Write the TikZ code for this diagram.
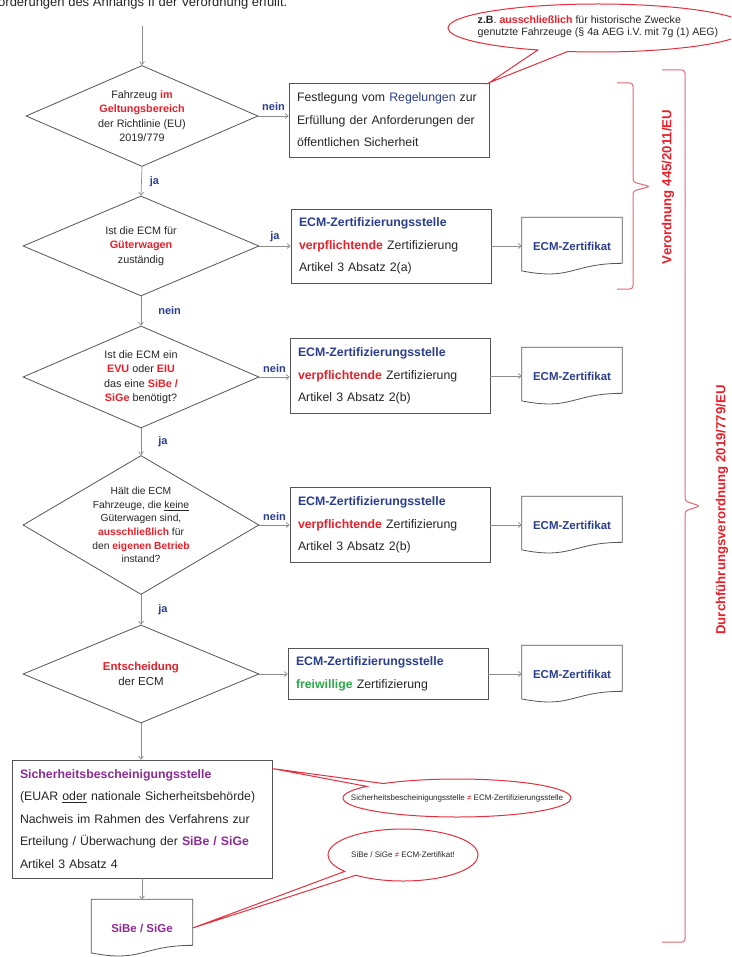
\documentclass[tikz,border=0pt]{standalone}
\usepackage{fontspec}
\setmainfont{Liberation Sans}
\usetikzlibrary{shapes.geometric,shapes.callouts,arrows.meta,calc}

\definecolor{ecmblue}{HTML}{2B3E8E}
\definecolor{alertred}{HTML}{E8202A}
\definecolor{okgreen}{HTML}{2EA84A}
\definecolor{sibepurple}{HTML}{8B2C93}
\definecolor{bracered}{HTML}{E06A76}
\definecolor{calloutred}{HTML}{E2303F}
\definecolor{framegray}{HTML}{555555}
\definecolor{arrowgray}{HTML}{8C8C8C}
\definecolor{bodytext}{HTML}{262626}

\newcommand\hlred[1]{\textcolor{alertred}{\textbf{#1}}}
\newcommand\hlblue[1]{\textcolor{ecmblue}{\textbf{#1}}}
\newcommand\hlgreen[1]{\textcolor{okgreen}{\textbf{#1}}}
\newcommand\hlpurple[1]{\textcolor{sibepurple}{\textbf{#1}}}

\begin{document}
\begin{tikzpicture}[x=1pt, y=-1pt,
  decision/.style={diamond, draw=framegray, line width=0.8pt, fill=white, inner sep=0pt, minimum width=236pt},
  dtext/.style={align=center, text=bodytext, inner sep=0pt, font=\fontsize{10.8}{14.5}\selectfont},
  stepbox/.style={draw=framegray, line width=0.8pt, fill=white, inner xsep=8pt, inner ysep=0pt, text width=184pt, align=left, text=bodytext, font=\fontsize{12.3}{22.5}\selectfont},
  docnode/.style={minimum width=100pt, minimum height=57pt, inner sep=0pt, font=\fontsize{11.5}{14}\selectfont\bfseries, text=ecmblue},
  docline/.style={draw=framegray, line width=0.8pt},
  flow/.style={draw=arrowgray, line width=0.7pt, -{Straight Barb[length=3pt,width=5pt]}},
  yesno/.style={font=\fontsize{11}{13}\selectfont\bfseries, text=ecmblue, inner sep=1pt},
  bubble/.style={ellipse callout, draw=calloutred, line width=1pt, fill=white, inner sep=0pt, callout pointer arc=12},
  bubbletext/.style={align=left, inner sep=0pt, text=bodytext},
  bracket/.style={draw=bracered, line width=1pt, rounded corners=3pt},
  lawtext/.style={rotate=90, text=alertred, inner sep=0pt, font=\fontsize{13.2}{15}\selectfont\bfseries},
]
\useasboundingbox (0,0) rectangle (731,957);
\clip (0,0) rectangle (731,957);
\fill[white] (0,0) rectangle (731,957);

% running text above the chart, cut by the top edge
\node[anchor=base west, inner sep=0pt, text=bodytext, font=\fontsize{13}{15}\selectfont] (hdr) at (-2,7)
  {orderungen des Anhangs II der Verordnung erfüllt.};

% decisions
\node[decision, minimum width=232pt, minimum height=101pt] (d1) at (142,116) {};
\node[dtext] (d1t) at (d1.center) {Fahrzeug \hlred{im}\\\hlred{Geltungsbereich}\\der Richtlinie (EU)\\2019/779};

\node[decision, minimum height=100pt] (d2) at (141,246) {};
\node[dtext] (d2t) at (d2.center) {Ist die ECM für\\\hlred{Güterwagen}\\zuständig};

\node[decision, minimum height=102pt] (d3) at (141,377) {};
\node[dtext] (d3t) at (d3.center) {Ist die ECM ein\\\hlred{EVU} oder \hlred{EIU}\\das eine \hlred{SiBe /}\\\hlred{SiGe} benötigt?};

\node[decision, minimum height=139pt] (d4) at (141,525) {};
\node[dtext, font=\fontsize{10.3}{13.6}\selectfont] (d4t) at (d4.center) {Hält die ECM\\Fahrzeuge, die \underline{keine}\\Güterwagen sind,\\\hlred{ausschließlich} für\\den \hlred{eigenen Betrieb}\\instand?};

\node[decision, minimum height=98pt] (d5) at (141,674) {};
\node[dtext, font=\fontsize{11.5}{15}\selectfont] (d5t) at (d5.center) {\hlred{Entscheidung}\\der ECM};

% process boxes
\node[stepbox, minimum height=74pt] (b1) at (389,120) {Festlegung vom \textcolor{ecmblue}{Regelungen} zur\\Erfüllung der Anforderungen der\\öffentlichen Sicherheit};
\node[stepbox, minimum height=74pt] (b2) at (391,246) {\hlblue{ECM-Zertifizierungsstelle}\\\hlred{verpflichtende} Zertifizierung\\Artikel 3 Absatz 2(a)};
\node[stepbox, minimum height=75pt] (b3) at (390,376) {\hlblue{ECM-Zertifizierungsstelle}\\\hlred{verpflichtende} Zertifizierung\\Artikel 3 Absatz 2(b)};
\node[stepbox, minimum height=75pt] (b4) at (390,525) {\hlblue{ECM-Zertifizierungsstelle}\\\hlred{verpflichtende} Zertifizierung\\Artikel 3 Absatz 2(b)};
\node[stepbox, minimum height=51pt] (b5) at (388,674) {\hlblue{ECM-Zertifizierungsstelle}\\\hlgreen{freiwillige} Zertifizierung};
\node[stepbox, text width=244pt, minimum height=118pt] (b6) at (142,819) {\hlpurple{Sicherheitsbescheinigungsstelle}\\(EUAR \underline{oder} nationale Sicherheitsbehörde)\\Nachweis im Rahmen des Verfahrens zur\\Erteilung / Überwachung der \hlpurple{SiBe / SiGe}\\Artikel 3 Absatz 4};

% documents
\node[docnode] (z1) at (572,246) {ECM-Zertifikat};
\node[docnode] (z2) at (572,376) {ECM-Zertifikat};
\node[docnode] (z3) at (572,525) {ECM-Zertifikat};
\node[docnode] (z4) at (572,674) {ECM-Zertifikat};
\node[docnode, text=sibepurple, minimum width=101pt] (sg) at (142,928) {SiBe / SiGe};
\foreach \n in {z1,z2,z3,z4,sg}{
  \draw[docline] (\n.north west) -- (\n.north east) -- ($(\n.north east)!0.802!(\n.south east)$)
    .. controls ($(\n.north)!0.802!(\n.south)$) and ($(\n.north)!1.107!(\n.south)$) .. ($(\n.north west)!0.934!(\n.south west)$) -- cycle;
}

% connectors
\coordinate (entry) at (142,26);
\draw[flow] (entry) -- (d1.north);
\draw[flow] (d1.east) -- (d1.east -| b1.west) node[midway, above=4pt, yesno] {nein};
\draw[flow] (d1.south) -- (d2.north) node[midway, right=7pt, yesno] {ja};
\draw[flow] (d2.east) -- (b2.west) node[midway, above=3pt, yesno] {ja};
\draw[flow] (b2.east) -- (z1.west);
\draw[flow] (d2.south) -- (d3.north) node[midway, right=16pt, yesno] {nein};
\draw[flow] (d3.east) -- (d3.east -| b3.west) node[midway, above=3pt, yesno] {nein};
\draw[flow] (b3.east) -- (z2.west);
\draw[flow] (d3.south) -- (d4.north) node[midway, right=16pt, yesno] {ja};
\draw[flow] (d4.east) -- (b4.west) node[midway, above=3pt, yesno] {nein};
\draw[flow] (b4.east) -- (z3.west);
\draw[flow] (d4.south) -- (d5.north) node[midway, right=16pt, yesno] {ja};
\draw[flow] (d5.east) -- (b5.west);
\draw[flow] (b5.east) -- (z4.west);
\draw[flow] (d5.south) -- (d5.south |- b6.north);
\draw[flow] (b6.south) -- (sg.north);

% remarks
\node[bubble, minimum width=300pt, minimum height=48pt, callout absolute pointer={(b1.north east)}] (k1) at (598,28) {};
\node[bubbletext, font=\fontsize{10.6}{12.5}\selectfont] (k1t) at (598,27)
  {\textbf{z.B}. \hlred{ausschließlich} für historische Zwecke\\genutzte Fahrzeuge (§ 4a AEG i.V. mit 7g (1) AEG)};

\coordinate (p6) at ($(b6.north east)+(0,9)$);
\node[bubble, minimum width=228pt, minimum height=38pt, callout absolute pointer={(p6)}] (k2) at (457,798) {};
\node[bubbletext, font=\fontsize{8}{10}\selectfont] (k2t) at (k2.center)
  {Sicherheitsbescheinigungsstelle \textcolor{alertred}{≠} ECM-Zertifizierungsstelle};

\node[bubble, minimum width=150pt, minimum height=52pt, callout absolute pointer={(sg.east)}] (k3) at (403,855) {};
\node[bubbletext, font=\fontsize{8}{10}\selectfont] (k3t) at (k3.center)
  {SiBe / SiGe \textcolor{alertred}{≠} ECM-Zertifikat!};

% scope brackets
\draw[bracket] (617,83) -- (633,83) -- (633,182) -- (650,186.5) -- (633,191) -- (633,289) -- (617,289);
\node[lawtext] (law1) at (668,187) {Verordnung 445/2011/EU};
\draw[bracket] (662,70) -- (685,70) -- (685,501) -- (700,506) -- (685,511) -- (685,942) -- (662,942);
\node[lawtext] (law2) at (722,510) {Durchführungsverordnung 2019/779/EU};
\end{tikzpicture}
\end{document}
